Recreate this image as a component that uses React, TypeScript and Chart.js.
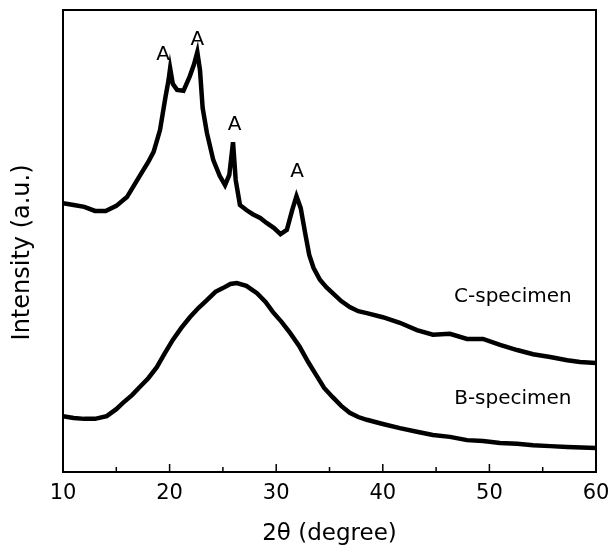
import React, { useEffect, useRef } from "react";
import { Chart, registerables } from "chart.js";

Chart.register(...registerables);

// 2θ (degree) positions and intensities (a.u.)
const cTheta = [10.0, 11.0, 12.0, 13.0, 14.0, 15.0, 16.0, 17.2, 18.0, 18.5, 19.1, 19.6, 19.9, 20.05, 20.3, 20.7, 21.3, 21.9, 22.3, 22.6, 22.85, 23.1, 23.5, 24.1, 24.7, 25.2, 25.6, 25.95, 26.2, 26.6, 27.2, 27.8, 28.5, 29.1, 29.8, 30.4, 31.0, 31.5, 31.9, 32.3, 32.7, 33.1, 33.5, 34.1, 34.7, 35.3, 36.1, 36.9, 37.7, 38.5, 40.0, 41.6, 43.2, 44.7, 46.3, 47.9, 49.4, 51.0, 52.6, 54.1, 55.7, 57.3, 58.5, 60.0];
const cIntensity = [58.2, 57.8, 57.4, 56.5, 56.5, 57.6, 59.5, 64.1, 67.1, 69.3, 74.0, 81.0, 84.8, 87.4, 84.0, 82.7, 82.5, 85.7, 88.3, 90.9, 87.0, 78.8, 73.4, 67.5, 64.1, 62.1, 64.3, 71.4, 63.2, 57.8, 56.7, 55.8, 55.0, 53.9, 52.8, 51.5, 52.4, 56.7, 59.7, 57.1, 51.9, 47.0, 44.2, 41.6, 40.0, 38.7, 37.0, 35.7, 34.8, 34.4, 33.5, 32.3, 30.7, 29.7, 29.9, 28.8, 28.8, 27.5, 26.4, 25.5, 24.9, 24.2, 23.8, 23.6];

const bTheta = [10.0, 11.0, 12.0, 13.0, 14.1, 15.0, 15.6, 16.5, 17.2, 18.0, 18.8, 19.5, 20.3, 21.1, 21.9, 22.7, 23.5, 24.3, 25.0, 25.7, 26.3, 27.2, 28.2, 29.0, 29.7, 30.5, 31.3, 32.2, 33.0, 33.8, 34.5, 35.3, 36.1, 36.9, 37.7, 38.5, 40.0, 41.6, 43.2, 44.7, 46.3, 47.9, 49.4, 51.0, 52.6, 54.1, 55.7, 57.3, 60.0];
const bIntensity = [12.1, 11.7, 11.5, 11.5, 12.1, 13.6, 14.9, 16.7, 18.4, 20.3, 22.7, 25.5, 28.6, 31.2, 33.5, 35.5, 37.2, 39.0, 39.8, 40.7, 40.9, 40.3, 38.7, 36.8, 34.6, 32.5, 30.1, 27.1, 23.8, 20.8, 18.2, 16.2, 14.3, 12.8, 11.9, 11.3, 10.4, 9.5, 8.7, 8.0, 7.6, 6.9, 6.7, 6.3, 6.1, 5.8, 5.6, 5.4, 5.2];

const seriesNames = ["C-specimen", "B-specimen"];
const nameTheta = [52.2, 52.2];
const nameIntensity = [37.9, 15.8];

const peakText = ["A", "A", "A", "A"];
const peakTheta = [19.4, 22.6, 26.1, 31.95];
const peakIntensity = [90.3, 93.5, 75.1, 64.9];

const xTicks = [10, 20, 30, 40, 50, 60];

const FONT = "'DejaVu Sans', sans-serif";

const decorPlugin = {
  id: "decor",
  afterDatasetsDraw(chart: any) {
    const { ctx, chartArea, scales } = chart;
    const xs = scales.x;
    const ys = scales.y;
    ctx.save();
    // inward ticks
    ctx.strokeStyle = "#000";
    ctx.lineWidth = 1.5;
    xs.ticks.forEach((t: any) => {
      const px = xs.getPixelForValue(t.value);
      const major = xTicks.includes(t.value);
      ctx.beginPath();
      ctx.moveTo(px, chartArea.bottom);
      ctx.lineTo(px, chartArea.bottom - (major ? 8 : 5));
      ctx.stroke();
    });
    // frame
    ctx.lineWidth = 2;
    ctx.strokeRect(chartArea.left, chartArea.top, chartArea.right - chartArea.left, chartArea.bottom - chartArea.top);
    // annotations
    ctx.fillStyle = "#000";
    ctx.textAlign = "center";
    ctx.textBaseline = "middle";
    ctx.font = `20px ${FONT}`;
    peakText.forEach((s, i) => {
      ctx.fillText(s, xs.getPixelForValue(peakTheta[i]), ys.getPixelForValue(peakIntensity[i]));
    });
    seriesNames.forEach((s, i) => {
      ctx.fillText(s, xs.getPixelForValue(nameTheta[i]), ys.getPixelForValue(nameIntensity[i]));
    });
    ctx.restore();
  },
};

export default function App() {
  const ref = useRef<HTMLCanvasElement>(null);
  useEffect(() => {
    if (!ref.current) return;
    const chart = new Chart(ref.current, {
      type: "line",
      data: {
        datasets: [
          {
            label: seriesNames[0],
            data: cTheta.map((x, i) => ({ x, y: cIntensity[i] })),
            borderColor: "#000",
            borderWidth: 4.5,
            pointRadius: 0,
            tension: 0,
          },
          {
            label: seriesNames[1],
            data: bTheta.map((x, i) => ({ x, y: bIntensity[i] })),
            borderColor: "#000",
            borderWidth: 4.5,
            pointRadius: 0,
            tension: 0,
          },
        ],
      },
      options: {
        animation: false,
        responsive: false,
        maintainAspectRatio: false,
        layout: { padding: { left: 0, right: 14, top: 10, bottom: 0 } },
        plugins: { legend: { display: false }, tooltip: { enabled: false } },
        scales: {
          x: {
            type: "linear",
            min: 10,
            max: 60,
            afterFit: (s: any) => {
              s.height = 82;
              s.paddingLeft = 0;
              s.paddingRight = 0;
            },
            ticks: {
              stepSize: 5,
              autoSkip: false,
              maxRotation: 0,
              padding: 9,
              color: "#000",
              font: { family: FONT, size: 21 },
              callback: (v: any) => (xTicks.includes(v) ? String(v) : ""),
            },
            grid: { display: false, drawTicks: false },
            border: { display: false },
            title: {
              display: true,
              text: "2θ (degree)",
              color: "#000",
              font: { family: FONT, size: 23 },
              padding: { top: 0, bottom: 6 },
            },
          },
          y: {
            type: "linear",
            min: 0,
            max: 100,
            afterFit: (s: any) => {
              s.width = 63;
              s.paddingTop = 0;
              s.paddingBottom = 0;
            },
            ticks: { display: false },
            grid: { display: false, drawTicks: false },
            border: { display: false },
            title: {
              display: true,
              text: "Intensity (a.u.)   ",
              color: "#000",
              font: { family: FONT, size: 24 },
              padding: { top: 8, bottom: 0 },
            },
          },
        },
      },
      plugins: [decorPlugin],
    });
    return () => chart.destroy();
  }, []);
  return (
    <div style={{ position: "fixed", left: 0, top: 0, width: 610, height: 554, background: "#fff" }}>
      <canvas ref={ref} width={610} height={554} style={{ display: "block", width: 610, height: 554 }} />
    </div>
  );
}
